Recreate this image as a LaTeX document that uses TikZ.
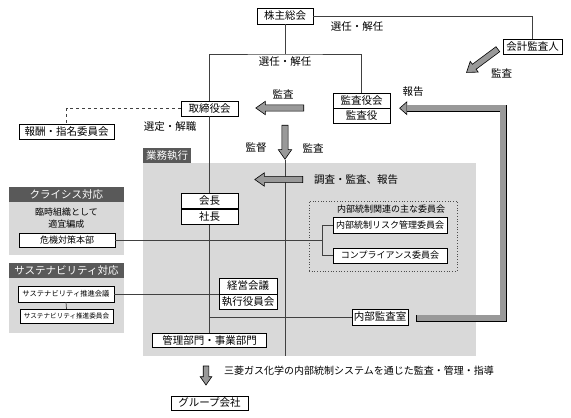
\documentclass[tikz,border=0pt]{standalone}
\usepackage{fontspec}
\setmainfont{Noto Sans CJK JP}
\usetikzlibrary{positioning}
\usetikzlibrary{shapes.arrows}
\usetikzlibrary{arrows.meta}
\usetikzlibrary{calc}

\begin{document}
\begin{tikzpicture}
[
x=1pt, y=-1pt,
box-a/.style={draw, fill=white, inner sep=0pt, minimum height=15pt, font=\fontsize{10.5}{12}\selectfont},
box-b/.style={box-a, font=\fontsize{9}{11}\selectfont},
box-c/.style={box-a, font=\fontsize{7.3}{9}\selectfont},
text-a/.style={black, inner sep=0pt, font=\fontsize{10.5}{12}\selectfont},
text-b/.style={black, inner sep=0pt, font=\fontsize{9}{12}\selectfont},
head-a/.style={fill=black!65, text=white, inner sep=0pt, minimum height=15pt, font=\fontsize{10.5}{12}\selectfont},
panel-a/.style={fill=black!15, inner sep=0pt},
fat-a/.style={single arrow, draw, fill=black!40, line width=0.6pt, inner sep=2.8pt,
              single arrow head extend=3.6pt, single arrow tip angle=70},
link-a/.style={draw=black!75, line width=0.7pt},
]
\useasboundingbox (0,0) rectangle (571,418);

% gray area and side panels
\node (gyomu) [panel-a, minimum width=333pt, minimum height=193pt] at (309.5,259.5) {};
\node (gyomu-t) [head-a, minimum width=48pt, anchor=south west] at (gyomu.north west) {業務執行};
\node (crisis) [panel-a, minimum width=115pt, minimum height=53pt] at (66.5,228.5) {};
\node (crisis-t) [head-a, minimum width=115pt, anchor=south] at (crisis.north) {クライシス対応};
\node (sustain) [panel-a, minimum width=115pt, minimum height=55pt] at (66.5,305.5) {};
\node (sustain-t) [head-a, minimum width=115pt, anchor=south] at (sustain.north) {サステナビリティ対応};
\node (rinji) [text-b, align=center] at (66.5,218) {臨時組織として\\適宜編成};
\node (waku) [draw=black!70, dotted, line width=0.7pt, minimum width=148pt, minimum height=70pt] at (383,236) {};
\node (waku-t) [text-b] at (391,209) {内部統制関連の主な委員会};

% boxes
\node (kabu)  [box-a, minimum width=56pt, minimum height=16pt] at (285,16) {株主総会};
\node (kaikei) [box-a, minimum width=59pt] at (532.5,46.5) {会計監査人};
\node (tori)  [box-a, minimum width=57pt] at (209.5,108.5) {取締役会};
\node (hoshu) [box-a, minimum width=95pt] at (66.5,131.5) {報酬・指名委員会};
\node (kansakai) [box-a, minimum width=57pt] at (361.5,100.5) {監査役会};
\node (kansayaku) [box-a, minimum width=57pt, below=0pt of kansakai] {監査役};
\node (kaicho) [box-a, minimum width=57pt, minimum height=15.5pt] at (209.5,200.75) {会長};
\node (shacho) [box-a, minimum width=57pt, minimum height=15.5pt, below=0pt of kaicho] {社長};
\node (keiei) [box-a, minimum width=58pt, minimum height=15.5pt] at (248,286) {経営会議};
\node (shikko) [box-a, minimum width=58pt, minimum height=15.5pt, below=0pt of keiei] {執行役員会};
\node (kanri) [box-a, minimum width=114pt, minimum height=14pt] at (209.5,340) {管理部門・事業部門};
\node (naibu) [box-a, minimum width=56pt, minimum height=16pt] at (380,317) {内部監査室};
\node (risk)  [box-b, minimum width=114pt, minimum height=16pt] at (390,225) {内部統制リスク管理委員会};
\node (comp)  [box-b, minimum width=114pt] at (390,255.5) {コンプライアンス委員会};
\node (kiki)  [box-b, minimum width=96pt, minimum height=14pt] at (67,240.25) {危機対策本部};
\node (suishin) [box-c, minimum width=96pt, minimum height=16pt] at (66,294) {サステナビリティ推進会議};
\node (suishin-i) [box-c, minimum width=93pt, minimum height=14pt, font=\fontsize{6.6}{8}\selectfont] at (66.5,316) {サステナビリティ推進委員会};
\node (group) [box-a, minimum width=77pt, minimum height=14pt] at (209.5,403) {グループ会社};

% labels
\node (l-senin1) [text-a] at (357,27) {選任・解任};
\node (l-senin2) [text-a] at (285,62) {選任・解任};
\node (l-sentei) [text-a] at (170,127) {選定・解職};
\node (l-kansa1) [text-a] at (501.5,73) {監査};
\node (l-hokoku) [text-a] at (413,92) {報告};
\node (l-kansa2) [text-a] at (283,94) {監査};
\node (l-kantoku) [text-a] at (256,148) {監督};
\node (l-kansa3) [text-a] at (313,148) {監査};
\node (l-chosa)  [text-a] at (356,180) {調査・監査、報告};
\node (l-group)  [text-a, font=\fontsize{10}{12}\selectfont] at (359,371) {三菱ガス化学の内部統制システムを通じた監査・管理・指導};

% connectors
\draw [link-a] (kabu.east) -| (kaikei.north);
\draw [link-a] (kabu.south) -- (kabu.south |- 0,54);
\draw [link-a] (tori.north) |- (kabu.south |- 0,54) -| (kansakai.north);
\draw [link-a, dashed] (tori.west) -| (hoshu.north);
\draw [link-a] (tori.south) -- (kaicho.north);
\draw [link-a] (shacho.south) -- (kanri.north);
\coordinate (brk) at ($(risk.west)!0.5!(comp.west)+(-10,0)$);
\draw [link-a] (kiki.east) -- (kiki.east -| brk);
\draw [link-a] (risk.west) -| (brk) |- (comp.west);
\draw [link-a] (suishin.east) -- (suishin.east -| keiei.west);
\draw [link-a] (suishin.south) -- (suishin-i.north);
\draw [link-a] (naibu.west) -- (naibu.west -| shacho.south);

% fat arrows
\node (a-kaikei) [fat-a, minimum height=39pt, rotate=216.6] at (484,59.5) {};
\node (a-kansa)  [fat-a, minimum height=48pt, rotate=180] at (282,108) {};
\node (a-kantoku) [fat-a, minimum height=34pt, rotate=-90] at (285,140) {};
\draw [link-a] (a-kantoku.tip) -- (a-kantoku.tip |- gyomu.south);
\node (a-chosa)  [fat-a, minimum height=48pt, rotate=180] at (281,179.5) {};
\node (a-group)  [fat-a, minimum height=19pt, rotate=-90, inner sep=2.5pt, single arrow head extend=3pt] at (206,373.5) {};

% report arrow from internal audit to auditors
\draw [line width=7pt, -{Triangle[length=8pt,width=14pt,line width=0.6pt,fill=black!40]}]
      ($(naibu.east)+(8,1)$) -| ($(kansayaku.north east)+(113,0)$) -- ($(kansayaku.north east)+(9,0)$);
\draw [line width=5.6pt, draw=black!40, shorten <=0.7pt, shorten >=7.6pt]
      ($(naibu.east)+(8,1)$) -| ($(kansayaku.north east)+(113,0)$) -- ($(kansayaku.north east)+(9,0)$);
\end{tikzpicture}
\end{document}
